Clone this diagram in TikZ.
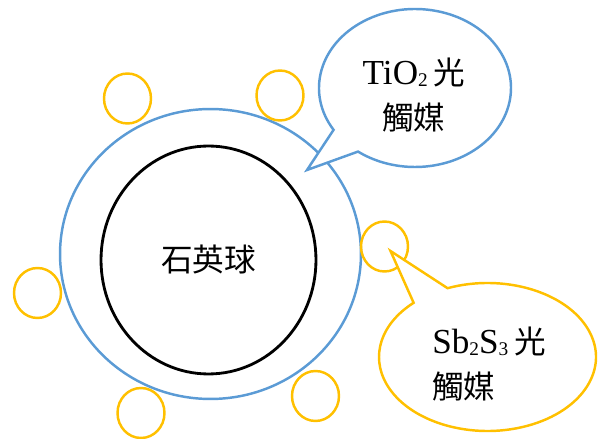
\documentclass[tikz,border=0pt]{standalone}
\usepackage{fontspec}
\setmainfont{Liberation Serif}
\newfontfamily\cjk{Noto Sans CJK TC}
\usetikzlibrary{shapes.geometric}
\definecolor{cblue}{HTML}{5B9BD5}
\definecolor{cyel}{HTML}{FFC000}
\newcommand{\smallsub}[1]{\raisebox{-1.5pt}{\fontsize{11}{11}\selectfont #1}}
\tikzset{
  ring/.style={ellipse, draw, inner sep=0pt, line width=1.4pt},
  particle/.style={ring, draw=cyel, minimum width=0.94cm, minimum height=1.0cm},
  callblue/.style={draw=cblue, fill=white, line width=1.4pt, line join=miter},
  callyel/.style={draw=cyel, fill=white, line width=1.4pt, line join=miter},
  label/.style={inner sep=0pt, font=\fontsize{20}{26}\selectfont}
}
\begin{document}
\begin{tikzpicture}[x=0.02cm, y=-0.02cm]
\useasboundingbox (0,0) rectangle (600,439);
% spheres
\node[ring, draw=cblue, minimum width=6.02cm, minimum height=5.8cm] (shell) at (210.5,254) {};
\node[ring, draw=black, line width=1.6pt, minimum width=4.3cm, minimum height=4.56cm,
      font=\cjk\fontsize{18}{20}\selectfont] (core) at (208.5,260) {石英球};
% particles
\node[particle] (p1) at (127.5,98.5) {};
\node[particle] (p2) at (280,95.5) {};
\node[particle] (p3) at (37.5,293) {};
\node[particle] (p4) at (141,413) {};
\node[particle] (p5) at (315.5,396) {};
\node[particle] (p6) at (384.5,246.5) {};
% TiO2 callout
\coordinate (bc) at (415,88);
\coordinate (btip) at (307,170);
\draw[callblue] (bc) ++(148:96 and 79) arc[start angle=148, end angle=486.4, x radius=96, y radius=79] -- (btip) -- cycle;
\node[label, align=center] (tlab) at (414,95)
  {TiO\smallsub{2}\,{\cjk\fontsize{18}{26}\selectfont 光}\\{\cjk\fontsize{18}{26}\selectfont 觸媒}};
% Sb2S3 callout
\coordinate (yc) at (487.5,357);
\coordinate (ytip) at (390.5,251);
\draw[callyel] (yc) ++(248.4:108.5 and 74) arc[start angle=248.4, end angle=587.1, x radius=108.5, y radius=74] -- (ytip) -- cycle;
\node[label, align=left, anchor=west] (slab) at (432,364)
  {Sb\smallsub{2}S\smallsub{3}\,{\cjk\fontsize{18}{26}\selectfont 光}\\{\cjk\fontsize{18}{26}\selectfont 觸媒}};
\end{tikzpicture}
\end{document}
